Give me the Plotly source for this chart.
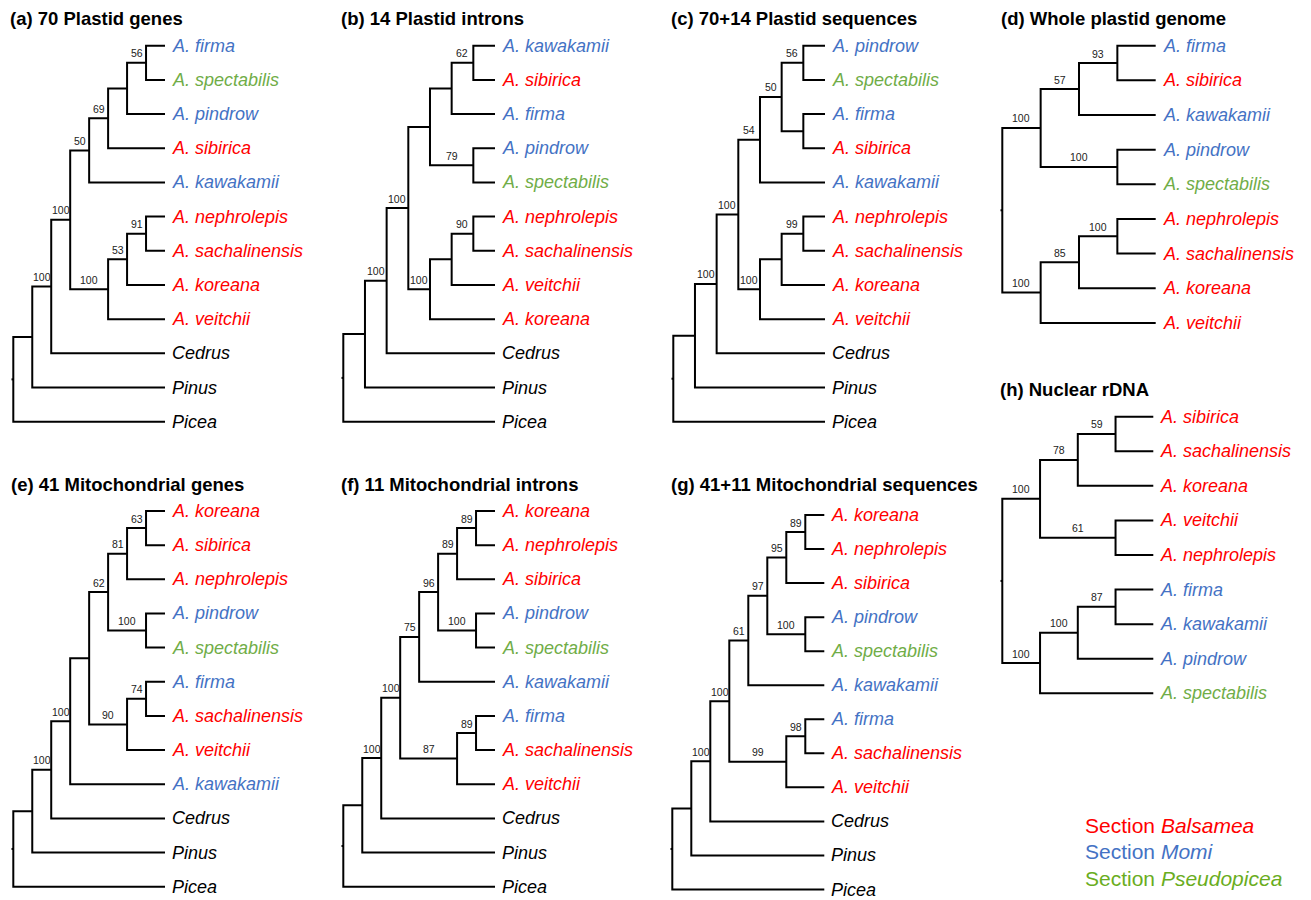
import plotly.graph_objects as go

# Section colours
RED = "#FF0000"
BLUE = "#4472C4"
GREEN = "#70AD47"
LEGEND_GREEN = "#6AAD1E"
BLACK = "#000000"

# Section membership of each Abies species (outgroups are drawn in black)
SECTION_BALSAMEA = ["sibirica", "nephrolepis", "sachalinensis", "koreana", "veitchii"]
SECTION_MOMI = ["firma", "pindrow", "kawakamii"]
SECTION_PSEUDOPICEA = ["spectabilis"]
OUTGROUPS = ["Cedrus", "Pinus", "Picea"]

# Panel titles
TITLES = [
    "(a) 70 Plastid genes",
    "(b) 14 Plastid introns",
    "(c) 70+14 Plastid sequences",
    "(d) Whole plastid genome",
    "(e) 41 Mitochondrial genes",
    "(f) 11 Mitochondrial introns",
    "(g) 41+11 Mitochondrial sequences",
    "(h) Nuclear rDNA",
]

# Tree topologies (children listed top to bottom) with bootstrap support as node labels
TREES = [
    "((((((((firma,spectabilis)56,pindrow),sibirica)69,kawakamii)50,"
    "(((nephrolepis,sachalinensis)91,koreana)53,veitchii)100)100,Cedrus)100,Pinus),Picea);",
    "(((((((kawakamii,sibirica)62,firma),(pindrow,spectabilis)79),"
    "(((nephrolepis,sachalinensis)90,veitchii),koreana)100)100,Cedrus)100,Pinus),Picea);",
    "(((((((pindrow,spectabilis)56,(firma,sibirica))50,kawakamii)54,"
    "(((nephrolepis,sachalinensis)99,koreana),veitchii)100)100,Cedrus)100,Pinus),Picea);",
    "((((firma,sibirica)93,kawakamii)57,(pindrow,spectabilis)100)100,"
    "(((nephrolepis,sachalinensis)100,koreana)85,veitchii)100);",
    "((((((((koreana,sibirica)63,nephrolepis)81,(pindrow,spectabilis)100)62,"
    "((firma,sachalinensis)74,veitchii)90),kawakamii)100,Cedrus)100,Pinus),Picea);",
    "((((((((koreana,nephrolepis)89,sibirica)89,(pindrow,spectabilis)100)96,kawakamii)75,"
    "((firma,sachalinensis)89,veitchii)87)100,Cedrus)100,Pinus),Picea);",
    "((((((((koreana,nephrolepis)89,sibirica)95,(pindrow,spectabilis)100)97,kawakamii)61,"
    "((firma,sachalinensis)98,veitchii)99)100,Cedrus)100,Pinus),Picea);",
    "((((sibirica,sachalinensis)59,koreana)78,(veitchii,nephrolepis)61)100,"
    "(((firma,kawakamii)87,pindrow)100,spectabilis)100);",
]

LEGEND_LABELS = [("Section ", "Balsamea"), ("Section ", "Momi"), ("Section ", "Pseudopicea")]

# Page placement of each panel: root x, tip x, first/last tip y, title position
PANELS = [
    dict(x0=13.3, x1=165.0, y0=45.7, y1=421.7, tx=8, ty=18),
    dict(x0=343.3, x1=495.0, y0=45.7, y1=421.7, tx=339, ty=18),
    dict(x0=673.3, x1=825.0, y0=45.7, y1=421.7, tx=669, ty=18),
    dict(x0=1002.3, x1=1155.7, y0=45.7, y1=322.9, tx=999, ty=18),
    dict(x0=13.3, x1=165.0, y0=511.0, y1=886.7, tx=9, ty=484.5),
    dict(x0=343.3, x1=495.0, y0=511.0, y1=886.7, tx=339, ty=484.5),
    dict(x0=672.3, x1=824.3, y0=515.0, y1=889.5, tx=669, ty=484.5),
    dict(x0=1002.3, x1=1153.3, y0=416.7, y1=693.3, tx=998, ty=389.5),
]

FONT = "Liberation Sans, Arial, Helvetica, sans-serif"


def parse_newick(s):
    """Minimal Newick parser: returns nested dicts with 'name', 'label', 'children'."""
    s = s.strip().rstrip(";")
    pos = 0

    def read_token():
        nonlocal pos
        start = pos
        while pos < len(s) and s[pos] not in ",()":
            pos += 1
        return s[start:pos].strip()

    def node():
        nonlocal pos
        if s[pos] == "(":
            pos += 1
            kids = [node()]
            while s[pos] == ",":
                pos += 1
                kids.append(node())
            pos += 1  # closing paren
            return {"name": None, "label": read_token(), "children": kids}
        return {"name": read_token(), "label": "", "children": []}

    return node()


def tip_color(name):
    if name in SECTION_BALSAMEA:
        return RED
    if name in SECTION_MOMI:
        return BLUE
    if name in SECTION_PSEUDOPICEA:
        return GREEN
    return BLACK


def tip_text(name):
    return f"<i>{name}</i>" if name in OUTGROUPS else f"<i>A. {name}</i>"


def layout_tree(root, p):
    tips = []

    def collect(n):
        if not n["children"]:
            tips.append(n)
        for c in n["children"]:
            collect(c)

    collect(root)
    step_y = (p["y1"] - p["y0"]) / (len(tips) - 1)
    for i, t in enumerate(tips):
        t["y"] = p["y0"] + i * step_y

    def height(n):
        n["h"] = 0 if not n["children"] else 1 + max(height(c) for c in n["children"])
        return n["h"]

    H = height(root)

    def place(n):
        n["x"] = p["x0"] + (p["x1"] - p["x0"]) * (1 - n["h"] / H)
        for c in n["children"]:
            place(c)
        if n["children"]:
            n["y"] = sum(c["y"] for c in n["children"]) / len(n["children"])

    place(root)
    return tips


fig = go.Figure()
annotations = []

for title, nwk, p in zip(TITLES, TREES, PANELS):
    root = parse_newick(nwk)
    tips = layout_tree(root, p)
    xs, ys = [], []

    # small root stub
    xs += [root["x"] - 1.8, root["x"], None]
    ys += [root["y"], root["y"], None]

    def draw(n, parent=None):
        if n["children"]:
            first, last = n["children"][0], n["children"][-1]
            xs.extend([first["x"], n["x"], n["x"], last["x"], None])
            ys.extend([first["y"], first["y"], last["y"], last["y"], None])
            for mid in n["children"][1:-1]:
                xs.extend([n["x"], mid["x"], None])
                ys.extend([mid["y"], mid["y"], None])
            if n["label"] and parent is not None:
                annotations.append(dict(
                    x=(parent["x"] + n["x"]) / 2, y=n["y"] - 9.5,
                    text=n["label"], showarrow=False, xanchor="center", yanchor="middle",
                    font=dict(family=FONT, size=10.5, color="#222222")))
            for c in n["children"]:
                draw(c, n)

    draw(root)
    fig.add_trace(go.Scatter(x=xs, y=ys, mode="lines", hoverinfo="skip",
                             line=dict(color=BLACK, width=2), showlegend=False))

    for t in tips:
        annotations.append(dict(
            x=t["x"] + 5, y=t["y"], text=tip_text(t["name"]), showarrow=False,
            xanchor="left", yanchor="middle",
            font=dict(family=FONT, size=18, color=tip_color(t["name"]))))

    annotations.append(dict(
        x=p["tx"], y=p["ty"], text=f"<b>{title}</b>", showarrow=False,
        xanchor="left", yanchor="middle",
        font=dict(family=FONT, size=18.5, color=BLACK)))

# Section legend
for (word, section), color, ly in zip(LEGEND_LABELS, [RED, BLUE, LEGEND_GREEN], [825, 851.7, 878.5]):
    annotations.append(dict(
        x=1083, y=ly, text=f"{word}<i>{section}</i>", showarrow=False,
        xanchor="left", yanchor="middle", font=dict(family=FONT, size=21, color=color)))

fig.update_layout(
    width=1311, height=900,
    margin=dict(l=0, r=0, t=0, b=0),
    paper_bgcolor="white", plot_bgcolor="white",
    xaxis=dict(range=[0, 1311], visible=False, fixedrange=True),
    yaxis=dict(range=[900, 0], visible=False, fixedrange=True),
    annotations=annotations,
    showlegend=False,
)

fig.write_html("out.html")
